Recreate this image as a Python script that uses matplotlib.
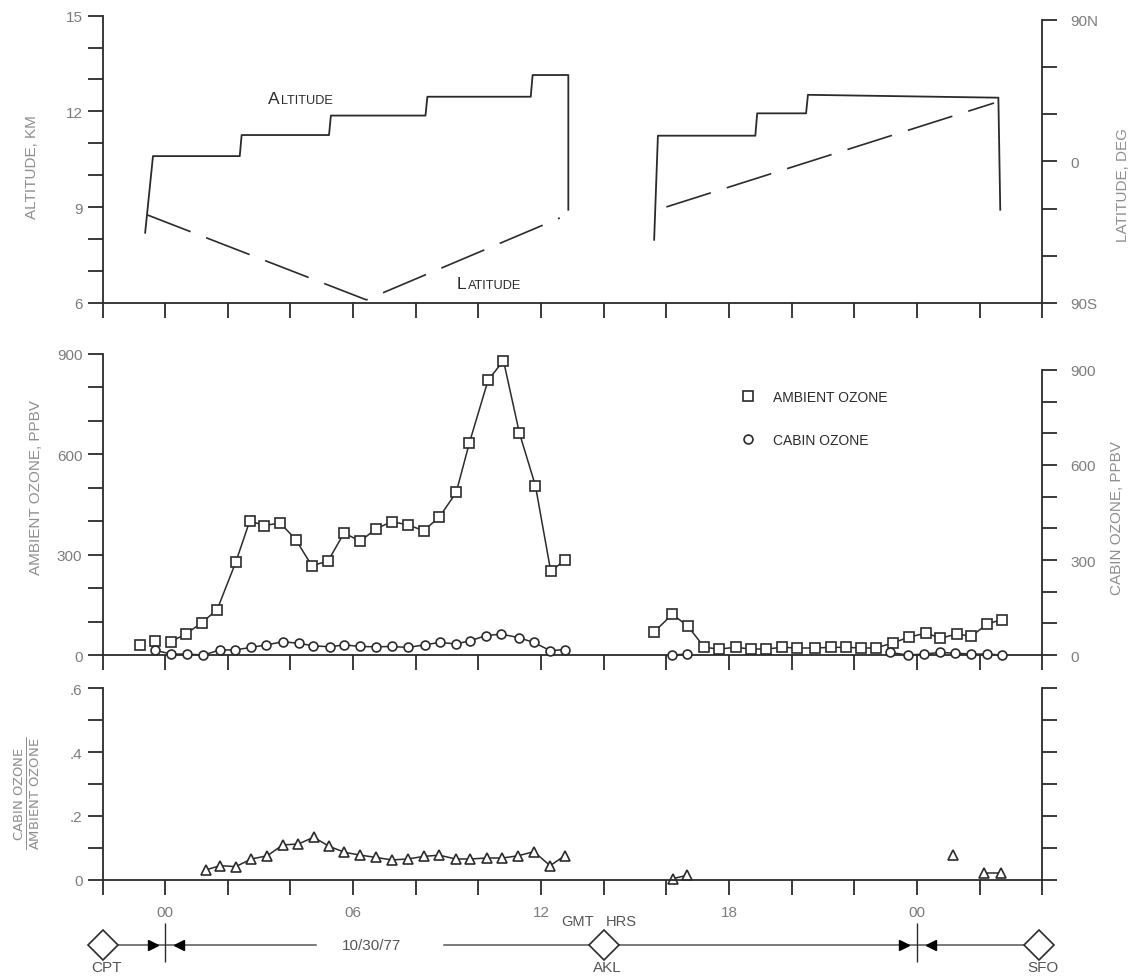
import numpy as np
import matplotlib.pyplot as plt
from matplotlib.lines import Line2D
from matplotlib.offsetbox import TextArea, HPacker, AnnotationBbox

plt.rcParams['font.family'] = ['Liberation Sans', 'DejaVu Sans']

# hours GMT counted from 00 on 10/30/77; flight 1 CPT-AKL, flight 2 AKL-SFO
alt1_hr = [-0.64, -0.39, 2.38, 2.44, 5.23, 5.29, 8.31, 8.37, 11.67, 11.73, 12.87, 12.87]
alt1_km = [8.2, 10.6, 10.6, 11.26, 11.26, 11.87, 11.87, 12.46, 12.46, 13.14, 13.14, 8.92]
alt2_hr = [15.61, 15.73, 18.84, 18.9, 20.46, 20.52, 26.6, 26.66]
alt2_km = [7.98, 11.24, 11.24, 11.94, 11.94, 12.52, 12.43, 8.92]

lat1_hr = [-0.58, 6.42, 12.6]
lat1_deg = [-34, -88, -36]
lat2_hr = [16.0, 26.46]
lat2_deg = [-29, 37]

amb1_hr = [-0.80, -0.33, 0.18, 0.66, 1.16, 1.66, 2.25, 2.70, 3.17, 3.67, 4.17, 4.68, 5.20, 5.71,
           6.23, 6.72, 7.24, 7.74, 8.25, 8.75, 9.29, 9.71, 10.31, 10.80, 11.31, 11.82, 12.31, 12.76]
amb1_ppbv = [31, 43, 40, 63, 96, 136, 277, 401, 387, 395, 345, 267, 281, 365,
             340, 377, 399, 389, 372, 412, 486, 634, 822, 880, 663, 506, 250, 284]
amb2_hr = [15.62, 16.19, 16.69, 17.21, 17.68, 18.22, 18.69, 19.19, 19.69, 20.17, 20.75, 21.27,
           21.74, 22.20, 22.69, 23.22, 23.74, 24.29, 24.75, 25.27, 25.74, 26.24, 26.72]
amb2_ppbv = [70, 122, 86, 23, 18, 23, 18, 18, 23, 21, 21, 23,
             23, 21, 21, 36, 53, 66, 50, 63, 56, 93, 106]

cab1_hr = [-0.33, 0.20, 0.70, 1.22, 1.74, 2.23, 2.73, 3.23, 3.76, 4.27, 4.73, 5.26, 5.72, 6.23,
           6.72, 7.24, 7.74, 8.28, 8.77, 9.27, 9.74, 10.23, 10.73, 11.28, 11.76, 12.29, 12.76]
cab1_ppbv = [15, 3, 3, 0, 16, 16, 24, 32, 42, 37, 29, 26, 32, 27,
             26, 27, 24, 32, 40, 35, 45, 61, 66, 55, 40, 14, 17]
cab2_hr = [16.17, 16.66, 23.15, 23.71, 24.21, 24.73, 25.22, 25.72, 26.24, 26.70]
cab2_ppbv = [0, 3, 8, 0, 3, 8, 6, 3, 3, 0]

rat1_hr = [1.31, 1.75, 2.25, 2.75, 3.26, 3.75, 4.25, 4.74, 5.23, 5.72, 6.23, 6.72,
           7.24, 7.74, 8.25, 8.75, 9.27, 9.74, 10.27, 10.76, 11.27, 11.77, 12.29, 12.75]
rat1 = [0.031, 0.044, 0.041, 0.065, 0.075, 0.109, 0.112, 0.133, 0.105, 0.086, 0.077, 0.070,
        0.062, 0.065, 0.073, 0.077, 0.065, 0.065, 0.068, 0.068, 0.075, 0.088, 0.044, 0.075]
rat2_hr = [16.20, 16.66, 25.15, 26.14, 26.69]
rat2 = [0.003, 0.014, 0.076, 0.021, 0.021]

hr_ticks = [0, 6, 12, 18, 24]
hr_labels = ['00', '06', '12', '18', '00']
stations = ['CPT', 'AKL', 'SFO']
station_hr = [-2, 14, 27.9]
date_change_hr = [0, 24]

INK = '#2b2b2b'
TICK = '#7c7c7c'
LABEL = '#8e8e8e'
STRIP = '#555555'


def px(x, y):
    return x / 1132, 1 - y / 979


def small_caps(text, big, small, color=INK):
    words = []
    for w in text.split():
        parts = [TextArea(w[0], textprops=dict(size=big, color=color))]
        parts.append(TextArea(w[1:], textprops=dict(size=small, color=color)))
        words.append(HPacker(children=parts, align='baseline', pad=0, sep=1))
    return HPacker(children=words, align='baseline', pad=0, sep=5)


def frame(ax):
    ax.set_xlim(-2, 28)
    ax.spines['top'].set_visible(False)
    ax.spines['right'].set_visible(False)
    for s in ax.spines.values():
        s.set_color(INK)
        s.set_linewidth(1.3)
    ax.set_xticks(np.arange(-2, 29, 2))
    ax.tick_params(which='both', direction='out', length=11, width=1.3, color=INK,
                   labelsize=11, labelcolor=TICK)
    ax.tick_params(axis='x', labelbottom=False)
    ax.patch.set_alpha(0)


def twin(ax):
    axr = ax.twinx()
    for s in ['left', 'top', 'bottom']:
        axr.spines[s].set_visible(False)
    axr.spines['right'].set_color(INK)
    axr.spines['right'].set_linewidth(1.3)
    axr.tick_params(which='both', direction='out', length=11, width=1.3, color=INK,
                    labelsize=11, labelcolor=TICK, pad=9)
    return axr


fig = plt.figure(figsize=(11.32, 9.79), dpi=100)
L, W = 0.0906, 0.8301
ax1 = fig.add_axes([L, 0.6895, W, 0.2935])
ax2 = fig.add_axes([L, 0.3299, W, 0.3075])
ax3 = fig.add_axes([L, 0.1004, W, 0.1955])
axt = fig.add_axes([L, 0.0, W, 0.0807])

# --- altitude / latitude
frame(ax1)
ax1.set_ylim(6, 15)
ax1.set_yticks([6, 9, 12, 15])
ax1.set_yticks(np.arange(6, 16, 1), minor=True)
ax1.plot(alt1_hr, alt1_km, color=INK, lw=1.3)
ax1.plot(alt2_hr, alt2_km, color=INK, lw=1.3)
ax1r = twin(ax1)
ax1r.set_ylim(-90, 92.5)
ax1r.spines['right'].set_bounds(-90, 90)
ax1r.set_yticks([-90, 0, 90])
ax1r.set_yticklabels(['90S', '0', '90N'])
ax1r.set_yticks(np.arange(-90, 91, 30), minor=True)
ax1r.plot(lat1_hr, lat1_deg, color=INK, lw=1.2, ls=(0, (28, 10)))
ax1r.plot(lat2_hr, lat2_deg, color=INK, lw=1.2, ls=(0, (28, 10)))
ax1.add_artist(AnnotationBbox(small_caps('ALTITUDE', 12.5, 9.2), (3.28, 12.17),
                              box_alignment=(0, 0), frameon=False, pad=0))
ax1.add_artist(AnnotationBbox(small_caps('LATITUDE', 12.5, 9.2), (9.31, 6.38),
                              box_alignment=(0, 0), frameon=False, pad=0))

# --- ozone
frame(ax2)
ax2.set_ylim(0, 900)
ax2.set_yticks([0, 300, 600, 900])
ax2.set_yticks(np.arange(0, 901, 100), minor=True)
sq = dict(marker='s', ms=7.8, mfc='white', mec=INK, mew=1.2, color=INK, lw=1.1, clip_on=False)
ax2.plot(amb1_hr[:2], amb1_ppbv[:2], ls='none', **sq)
ax2.plot(amb1_hr[2:], amb1_ppbv[2:], **sq)
ax2.plot(amb2_hr, amb2_ppbv, **sq)
ax2r = twin(ax2)
ax2r.set_ylim(0, 950.5)
ax2r.spines['right'].set_bounds(0, 900)
ax2r.set_yticks([0, 300, 600, 900])
ax2r.set_yticks(np.arange(0, 901, 100), minor=True)
ci = dict(marker='o', ms=6.4, mfc='white', mec=INK, mew=1.2, color=INK, lw=1.1, clip_on=False)
ax2r.plot(cab1_hr, cab1_ppbv, **ci)
ax2r.plot(cab2_hr[:2], cab2_ppbv[:2], **ci)
ax2r.plot(cab2_hr[2:], cab2_ppbv[2:], **ci)
handles = [Line2D([], [], ls='none', marker='s', ms=7.8, mfc='white', mec=INK, mew=1.2),
           Line2D([], [], ls='none', marker='o', ms=6.4, mfc='white', mec=INK, mew=1.2)]
ax2.legend(handles, ['AMBIENT OZONE', 'CABIN OZONE'], loc='upper left',
           bbox_to_anchor=(0.672, 0.905), frameon=False, fontsize=10, borderpad=0,
           handlelength=1, handletextpad=1.3, labelspacing=2.1, labelcolor=INK)

# --- ratio
frame(ax3)
ax3.set_ylim(0, 0.6)
ax3.set_yticks([0, 0.2, 0.4, 0.6])
ax3.set_yticklabels(['0', '.2', '.4', '.6'])
ax3.set_yticks(np.arange(0, 0.61, 0.1), minor=True)
tri = dict(marker='^', ms=6.8, mfc='white', mec=INK, mew=1.2, color=INK, lw=1.1, clip_on=False)
ax3.plot(rat1_hr, rat1, **tri)
ax3.plot(rat2_hr[:2], rat2[:2], **tri)
ax3.plot(rat2_hr[2:3], rat2[2:3], **tri)
ax3.plot(rat2_hr[3:], rat2[3:], **tri)
ax3.tick_params(axis='x', labelbottom=True, pad=7)
ax3.set_xticks(hr_ticks, hr_labels, minor=False)
ax3.set_xticks(np.arange(-2, 29, 2), minor=True)
ax3r = twin(ax3)
ax3r.set_ylim(0, 0.6)
ax3r.set_yticks(np.arange(0, 0.61, 0.1))
ax3r.set_yticklabels([])

# --- route strip: CPT -> AKL -> SFO, date line crossings at 00 GMT
axt.set_xlim(-2, 28)
axt.set_ylim(0, 1)
axt.axis('off')
y_route = 0.42
axt.plot([station_hr[0], 4.8], [y_route] * 2, color=STRIP, lw=1.1, zorder=1, clip_on=False)
axt.plot([8.9, station_hr[2]], [y_route] * 2, color=STRIP, lw=1.1, zorder=1, clip_on=False)
axt.plot(station_hr, [y_route] * len(station_hr), ls='none', marker='D', ms=15.5,
         mfc='white', mec=INK, mew=1.2, zorder=3, clip_on=False)
for h, name in zip(station_hr, stations):
    axt.text(h + 0.12, 0.14, name, ha='center', va='center', fontsize=11, color=STRIP)
axt.vlines(date_change_hr, 0.2, 0.7, color=INK, lw=1.0)
axt.plot(np.array(date_change_hr) - 0.4, [y_route] * 2, ls='none', marker='>', ms=7, color='black')
axt.plot(np.array(date_change_hr) + 0.45, [y_route] * 2, ls='none', marker='<', ms=7, color='black')
axt.text(6.6, y_route, '10/30/77', ha='center', va='center', fontsize=11, color=STRIP)
axt.text(13.15, 0.72, 'GMT', ha='center', va='center', fontsize=10.5, color=STRIP)
axt.text(14.57, 0.72, 'HRS', ha='center', va='center', fontsize=10.5, color=STRIP)

# --- axis titles
fig.text(*px(32, 167), 'ALTITUDE, KM', rotation=90, ha='center', va='center', fontsize=11, color=LABEL)
fig.text(*px(1123, 185), 'LATITUDE, DEG', rotation=90, ha='center', va='center', fontsize=11, color=LABEL)
fig.text(*px(36, 488), 'AMBIENT OZONE, PPBV', rotation=90, ha='center', va='center', fontsize=11, color=LABEL)
fig.text(*px(1117, 518), 'CABIN OZONE, PPBV', rotation=90, ha='center', va='center', fontsize=11, color=LABEL)
fig.text(*px(27, 793), r'$\frac{\mathrm{CABIN\ OZONE}}{\mathrm{AMBIENT\ OZONE}}$', rotation=90,
         ha='center', va='center', fontsize=13.5, color=LABEL)

fig.savefig('out.png', dpi=100, facecolor='white')
